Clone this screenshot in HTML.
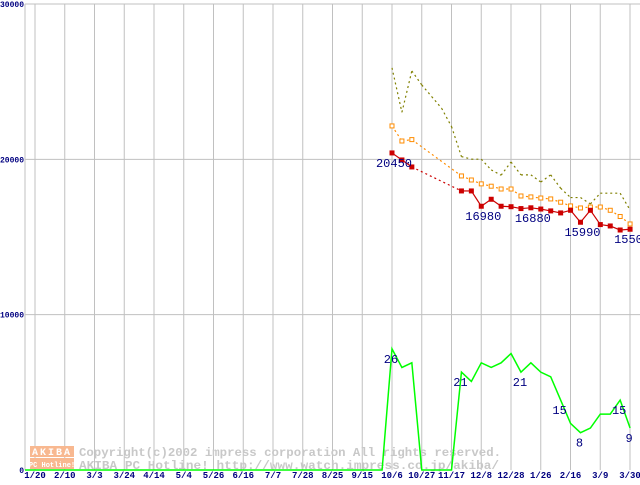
<!DOCTYPE html>
<html><head><meta charset="utf-8"><style>
body{margin:0;background:#fff;}
svg text{font-family:"Liberation Mono","DejaVu Sans Mono",monospace;}
</style></head><body>
<svg id="chart" width="640" height="480" viewBox="0 0 640 480" xmlns="http://www.w3.org/2000/svg">
<g id="grid"></g>
<g id="wm">
<rect x="30" y="446" width="44" height="11" fill="#f8b890"/>
<rect x="30" y="458" width="44" height="11" fill="#f8b890"/>
<text x="52" y="455" font-size="10" font-weight="bold" fill="#fff" text-anchor="middle" letter-spacing="2">AKIBA</text>
<text x="52" y="467" font-size="7" font-weight="bold" fill="#fff" text-anchor="middle">PC Hotline!</text>
<text x="79" y="456" font-size="12" font-weight="bold" fill="#c8c8c8" textLength="422" lengthAdjust="spacingAndGlyphs">Copyright(c)2002 impress corporation All rights reserved.</text>
<text x="79" y="469" font-size="12" font-weight="bold" fill="#c8c8c8" textLength="420" lengthAdjust="spacingAndGlyphs">AKIBA PC Hotline!  http://www.watch.impress.co.jp/akiba/</text>
</g>
<g id="series"></g>
<g id="labels"></g>
</svg>
<script>
const xTickLabels=["1/20","2/10","3/3","3/24","4/14","5/4","5/26","6/16","7/7","7/28","8/25","9/15","10/6","10/27","11/17","12/8","12/28","1/26","2/16","3/9","3/30"];
const yTickValues=[0,10000,20000,30000];
const olivePrice=[25890,23030,25690,24790,24040,23290,22110,20180,20010,20010,19320,18980,19830,19000,19000,18540,19000,18140,17540,17540,17130,17820,17820,17820,16740];
const orangePrice=[22150,21180,21270,null,null,null,null,18930,18670,18420,18270,18090,18090,17640,17580,17510,17450,17240,17000,16870,16930,16930,16720,16320,15840];
const redPrice=[20412,19960,19510,null,null,null,null,17965,17965,16980,17430,16980,16950,16830,16880,16800,16680,16550,16720,15950,16720,15800,15710,15450,15500];
const shopCount=[26,22,23,0,0,0,0,21,19,23,22,23,25,21,23,21,20,15,10,8,9,12,12,15,9];
const zeroWeeksBefore=37;
const redLabels=[[0,"20450"],[9,"16980"],[14,"16880"],[19,"15990"],[24,"15500"]];
const countLabels=[[0,"26"],[7,"21"],[13,"21"],[17,"15"],[19,"8"],[23,"15"],[24,"9"]];
const countScale=300;

const NS="http://www.w3.org/2000/svg";
const X0=392,DX=9.92,Y0=470,YT=4,VMAX=30000;
const xw=i=>X0+i*DX;
const yv=v=>Y0-(v/VMAX)*(Y0-YT);
function mk(tag,attrs,parent){const e=document.createElementNS(NS,tag);for(const k in attrs)e.setAttribute(k,attrs[k]);parent.appendChild(e);return e;}
const grid=document.getElementById('grid'),ser=document.getElementById('series'),lab=document.getElementById('labels');
let ax=mk('line',{x1:25,y1:YT,x2:25,y2:Y0,stroke:'#c0c0c0'},grid);


xTickLabels.forEach((t,k)=>{const x=35+k*29.75;
 const l=mk('line',{x1:x,y1:YT,x2:x,y2:Y0,stroke:'#c0c0c0'},grid);
 
 
 const tx=mk('text',{x:x,y:478,'font-size':9,'font-weight':'bold',fill:'#000080','text-anchor':'middle'},grid);tx.textContent=t;
 
 
});
yTickValues.forEach(v=>{const y=yv(v);
 if(v>0){const l=mk('line',{x1:25,y1:y,x2:640,y2:y,stroke:'#c0c0c0'},grid);
 
 }
 const tx=mk('text',{x:24,y:y+3,'font-size':8,'font-weight':'bold',fill:'#000080','text-anchor':'end'},grid);tx.textContent=String(v);
 
 
});
function drawLine(arr,color,dash,name){
 const pts=[];arr.forEach((v,i)=>{if(v!==null)pts.push([xw(i),yv(v),i]);});
 for(let k=1;k<pts.length;k++){const a=pts[k-1],b=pts[k];const gap=b[2]-a[2]>1;
  const l=mk('line',{x1:a[0],y1:a[1],x2:b[0],y2:b[1],stroke:color,'stroke-width':1.2},ser);
  if(dash||gap)l.setAttribute('stroke-dasharray','2,3');
  
  }
 return pts;}
drawLine(olivePrice,'#808000',true,'olive-line');
const op=drawLine(orangePrice,'#ff8c00',true,'orange-line');
op.forEach(p=>{const r=mk('rect',{x:p[0]-2,y:p[1]-2,width:4,height:4,fill:'#fff',stroke:'#ff8c00','stroke-width':1},ser);
 
 });
const rp=drawLine(redPrice,'#cc0000',false,'red-line');
rp.forEach(p=>{const r=mk('rect',{x:p[0]-2.5,y:p[1]-2.5,width:5,height:5,fill:'#cc0000'},ser);
 
 });
const cp=[];for(let k=zeroWeeksBefore;k>=1;k--)cp.push([xw(-k),Y0]);
shopCount.forEach((c,i)=>cp.push([xw(i),yv(c*countScale)]));
const pl=mk('polyline',{points:cp.map(p=>p.join(',')).join(' '),fill:'none',stroke:'#00ff00','stroke-width':1.5},ser);


redLabels.forEach(([i,t])=>{const tx=mk('text',{x:xw(i)+2,y:yv(redPrice[i])+14,'font-size':12,fill:'#000080','text-anchor':'middle','font-family':'Liberation Sans, sans-serif'},lab);tx.textContent=t;
 
 });
countLabels.forEach(([i,t])=>{const tx=mk('text',{x:xw(i)-1,y:yv(shopCount[i]*countScale)+14,'font-size':12,fill:'#000080','text-anchor':'middle','font-family':'Liberation Sans, sans-serif'},lab);tx.textContent=t;
 
 });
</script>
</body></html>
